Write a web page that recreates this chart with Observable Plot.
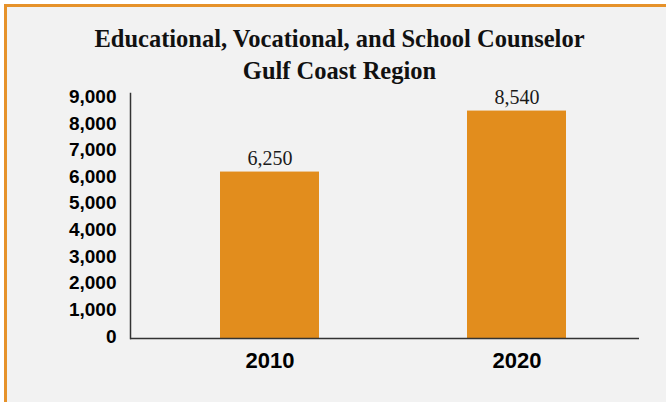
<!DOCTYPE html>
<html>
<head>
<meta charset="utf-8">
<script src="https://cdn.jsdelivr.net/npm/d3@7"></script>
<script src="https://cdn.jsdelivr.net/npm/@observablehq/plot@0.6"></script>
<style>
  html, body { margin: 0; padding: 0; background: #ffffff; }
  #frame {
    position: absolute; left: 4px; top: 4px; width: 659px; height: 395px;
    border-top: 3px solid #e6922a; border-left: 3px solid #e6922a;
    background: #f2f2f2; overflow: hidden;
  }
  #title {
    position: absolute; left: 0; top: 16px; width: 665px; text-align: center;
    font-family: "Liberation Serif", "DejaVu Serif", serif; font-weight: bold;
    font-size: 24.5px; line-height: 32px; color: #111;
  }
  #chart { position: absolute; left: 0; top: 81px; }
</style>
</head>
<body>
<div id="frame">
  <div id="title">Educational, Vocational, and School Counselor<br>Gulf Coast Region</div>
  <div id="chart"></div>
</div>
<script>
const years = ["2010", "2020"];
const values = [6250, 8540];
const yTicks = [0, 1000, 2000, 3000, 4000, 5000, 6000, 7000, 8000, 9000];

const data = years.map((year, i) => ({year, value: values[i]}));
const fmt = d3.format(",");

const chart = Plot.plot({
  width: 659,
  height: 290,
  marginLeft: 123,
  marginRight: 27,
  marginTop: 5,
  marginBottom: 40,
  style: {background: "transparent", overflow: "visible"},
  x: {domain: years, paddingInner: 0.6, paddingOuter: 0.33, align: 0.55, label: null},
  y: {domain: [0, 9200], label: null},
  marks: [
    Plot.barY(data, {x: "year", y: "value", fill: "#e28d1d"}),
    Plot.text(data, {x: "year", y: "value", text: d => fmt(d.value), dy: -13,
      fontFamily: "Liberation Serif, serif", fontSize: 20, fill: "#1a1a1a"}),
    Plot.axisY({ticks: yTicks, tickFormat: fmt, tickSize: 0, tickPadding: 14, dy: -2,
      fontFamily: "Liberation Sans, Arial, sans-serif", fontSize: 19, fontWeight: "bold", fill: "#000", label: null}),
    Plot.axisX({tickSize: 0, tickPadding: 14,
      fontFamily: "Liberation Sans, Arial, sans-serif", fontSize: 22, fontWeight: "bold", fill: "#000", label: null}),
    Plot.ruleY([0], {stroke: "#333", strokeWidth: 1.5}),
    Plot.frame({anchor: "left", stroke: "#333", strokeWidth: 1.5})
  ]
});
document.getElementById("chart").appendChild(chart);
</script>
</body>
</html>
